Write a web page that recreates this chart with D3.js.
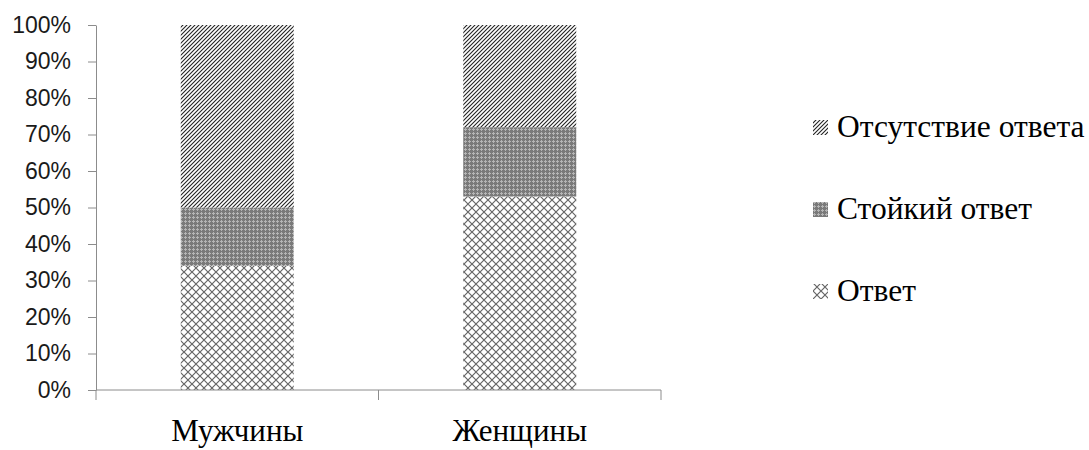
<!DOCTYPE html>
<html><head><meta charset="utf-8">
<script src="https://cdn.jsdelivr.net/npm/d3@7"></script>
<style>
html,body{margin:0;padding:0;background:#fff;}
svg{display:block;}
</style></head>
<body>
<svg id="chart" width="1089" height="450"></svg>
<script>
const categories = ["Мужчины", "Женщины"];
const seriesNames = ["Ответ", "Стойкий ответ", "Отсутствие ответа"];
const answer = [34, 53];
const stableAnswer = [16, 19];
const noAnswer = [50, 28];
const yTicks = [0, 10, 20, 30, 40, 50, 60, 70, 80, 90, 100];

const svg = d3.select("#chart");
const defs = svg.append("defs");

// pattern: diagonal lines
const p1 = defs.append("pattern").attr("id", "pDiag").attr("patternUnits", "userSpaceOnUse")
  .attr("width", 4).attr("height", 4);
p1.append("rect").attr("width", 4).attr("height", 4).attr("fill", "#fff");
p1.append("path").attr("d", "M-1,1 l2,-2 M0,4 l4,-4 M3,5 l2,-2").attr("stroke", "#222").attr("stroke-width", 1.1);

// pattern: dense gray
const p2 = defs.append("pattern").attr("id", "pGray").attr("patternUnits", "userSpaceOnUse")
  .attr("width", 4).attr("height", 4);
p2.append("rect").attr("width", 4).attr("height", 4).attr("fill", "#7a7a7a");
p2.append("rect").attr("x", 1).attr("y", 0).attr("width", 1).attr("height", 3).attr("fill", "#b5b5b5");
p2.append("rect").attr("x", 0).attr("y", 1).attr("width", 3).attr("height", 1).attr("fill", "#b5b5b5");

// pattern: crosshatch
const p3 = defs.append("pattern").attr("id", "pCross").attr("patternUnits", "userSpaceOnUse")
  .attr("width", 8).attr("height", 8);
p3.append("rect").attr("width", 8).attr("height", 8).attr("fill", "#fff");
p3.append("path").attr("d", "M0,0 L8,8 M8,0 L0,8").attr("stroke", "#666").attr("stroke-width", 1.2);

const fills = ["url(#pCross)", "url(#pGray)", "url(#pDiag)"];

const x = d3.scaleBand().domain(categories).range([96, 661]).paddingInner(0.6).paddingOuter(0.3);
const y = d3.scaleLinear().domain([0, 100]).range([390, 25]);

const data = categories.map((c, i) => ({cat: c, "Ответ": answer[i], "Стойкий ответ": stableAnswer[i], "Отсутствие ответа": noAnswer[i]}));
const stack = d3.stack().keys(seriesNames)(data);

svg.append("g").selectAll("g").data(stack).join("g")
  .attr("fill", (d, i) => fills[i])
  .selectAll("rect").data(d => d).join("rect")
  .attr("x", d => x(d.data.cat))
  .attr("width", x.bandwidth())
  .attr("y", d => y(d[1]))
  .attr("height", d => y(d[0]) - y(d[1]));

// Y axis
const yAxis = d3.axisLeft(y).tickValues(yTicks).tickFormat(d => d + "%").tickSize(8).tickSizeOuter(0);
const gy = svg.append("g").attr("transform", "translate(96,0)").call(yAxis);
gy.select(".domain").attr("stroke", "#8c8c8c");
gy.selectAll(".tick line").attr("stroke", "#8c8c8c");
gy.selectAll(".tick text").attr("x", -25).attr("font-family", "Liberation Sans, Arial, sans-serif")
  .attr("font-size", 23).attr("fill", "#1a1a1a");

// X axis
const gx = svg.append("g").attr("transform", "translate(0,390)");
gx.append("line").attr("x1", 96).attr("x2", 661).attr("stroke", "#8c8c8c");
const boundaries = [96, 96 + (661 - 96) / 2, 661];
gx.selectAll("line.tk").data(boundaries).join("line").attr("class", "tk")
  .attr("x1", d => d).attr("x2", d => d).attr("y1", 0).attr("y2", 10).attr("stroke", "#8c8c8c");
gx.selectAll("text").data(categories).join("text")
  .attr("x", d => x(d) + x.bandwidth() / 2)
  .attr("y", 51)
  .attr("text-anchor", "middle")
  .attr("font-family", "Liberation Serif, Times New Roman, serif")
  .attr("font-size", 31).attr("fill", "#000")
  .text(d => d);

// Legend
const legendItems = seriesNames.slice().reverse();
const legendFills = fills.slice().reverse();
const lg = svg.append("g");
const lgy = d3.scalePoint().domain(legendItems).range([127, 291]);
const items = lg.selectAll("g").data(legendItems).join("g")
  .attr("transform", d => `translate(813,${lgy(d)})`);
items.append("rect").attr("x", 0).attr("y", -7).attr("width", 15).attr("height", 15)
  .attr("fill", (d, i) => legendFills[i]);
items.append("text").attr("x", 24).attr("y", 0).attr("dy", "0.33em")
  .attr("font-family", "Liberation Serif, Times New Roman, serif")
  .attr("font-size", 31.5).attr("fill", "#000")
  .text(d => d);
</script>
</body></html>
